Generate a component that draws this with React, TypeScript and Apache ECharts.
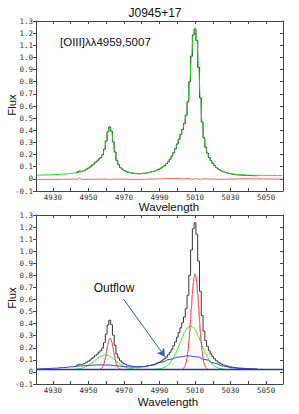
import React, { useEffect, useRef } from "react";
import * as echarts from "echarts";

// ---------- axes ----------
const X_MIN = 4920.5;
const X_MAX = 5059.5;
const Y_MIN = -0.1;
const Y_MAX = 1.3;
const Y_STEP = 0.1;
const X_TICKS = [4930, 4940, 4950, 4960, 4970, 4980, 4990, 5000, 5010, 5020, 5030, 5040, 5050];
const X_LABELS = [4930, 4950, 4970, 4990, 5010, 5030, 5050];

// ---------- texts ----------
const TITLE = "J0945+17";
const LINE_LABEL = "[OIII]λλ4959,5007";
const Y_NAME = "Flux";
const X_NAME = "Wavelength";
const OUTFLOW_LABEL = "Outflow";

// ---------- observed spectrum (histogram, bin centres) ----------
const SPECTRUM: [number, number][] = [
  [4943, 0.05], [4944, 0.058], [4945, 0.064], [4946, 0.062], [4947, 0.066], [4948, 0.071],
  [4949, 0.08], [4950, 0.088], [4951, 0.098], [4952, 0.112], [4953, 0.122], [4954, 0.137],
  [4955, 0.147], [4956, 0.163], [4957, 0.176], [4958, 0.199], [4959, 0.243], [4960, 0.312],
  [4961, 0.388], [4962, 0.428], [4963, 0.392], [4964, 0.305], [4965, 0.221], [4966, 0.15],
  [4967, 0.116], [4968, 0.093], [4969, 0.081], [4970, 0.069], [4971, 0.063], [4972, 0.056],
  [4973, 0.052], [4974, 0.048], [4975, 0.046], [4976, 0.044], [4977, 0.043], [4978, 0.043],
  [4979, 0.042], [4980, 0.044], [4981, 0.045], [4982, 0.047], [4983, 0.05], [4984, 0.053],
  [4985, 0.057], [4986, 0.06], [4987, 0.064], [4988, 0.069], [4989, 0.075], [4990, 0.081],
  [4991, 0.089], [4992, 0.099], [4993, 0.11], [4994, 0.125], [4995, 0.142], [4996, 0.163],
  [4997, 0.188], [4998, 0.217], [4999, 0.249], [5000, 0.287], [5001, 0.326], [5002, 0.366],
  [5003, 0.407], [5004, 0.455], [5005, 0.523], [5006, 0.635], [5007, 0.8], [5008, 1.01],
  [5009, 1.185], [5010, 1.235], [5011, 1.14], [5012, 0.918], [5013, 0.668], [5014, 0.468],
  [5015, 0.338], [5016, 0.26], [5017, 0.212], [5018, 0.176], [5019, 0.149], [5020, 0.127],
  [5021, 0.109], [5022, 0.094], [5023, 0.082], [5024, 0.073], [5025, 0.065], [5026, 0.058],
  [5027, 0.053], [5028, 0.049], [5029, 0.045], [5030, 0.042], [5031, 0.039], [5032, 0.037],
  [5033, 0.035], [5034, 0.033], [5035, 0.032], [5036, 0.031], [5037, 0.03], [5038, 0.029],
  [5039, 0.028], [5040, 0.028], [5041, 0.027], [5042, 0.027], [5043, 0.026], [5044, 0.026],
  [5045, 0.025],
];

// ---------- top panel: total model fit ----------
const TOTAL_FIT: [number, number][] = [
  [4921, 0.029], [4926, 0.032], [4931, 0.035], [4936, 0.039], [4940, 0.044], [4943, 0.049],
  [4945, 0.055], [4947, 0.064], [4949, 0.078], [4951, 0.098], [4953, 0.122], [4955, 0.148],
  [4956, 0.162], [4957, 0.176], [4958, 0.199], [4959, 0.241], [4960, 0.311], [4961, 0.387],
  [4962, 0.426], [4963, 0.393], [4964, 0.307], [4965, 0.219], [4966, 0.152], [4967, 0.115],
  [4968, 0.094], [4969, 0.08], [4970, 0.07], [4972, 0.057], [4974, 0.049], [4976, 0.045],
  [4978, 0.043], [4980, 0.044], [4982, 0.047], [4984, 0.053], [4986, 0.06], [4988, 0.069],
  [4990, 0.081], [4992, 0.099], [4994, 0.125], [4995, 0.142], [4996, 0.163], [4997, 0.188],
  [4998, 0.217], [4999, 0.249], [5000, 0.287], [5001, 0.326], [5002, 0.366], [5003, 0.407],
  [5004, 0.455], [5005, 0.523], [5006, 0.635], [5007, 0.8], [5008, 1.01], [5009, 1.188],
  [5010, 1.24], [5011, 1.142], [5012, 0.917], [5013, 0.667], [5014, 0.466], [5015, 0.336],
  [5016, 0.259], [5017, 0.211], [5018, 0.175], [5019, 0.148], [5020, 0.126], [5022, 0.094],
  [5024, 0.073], [5026, 0.058], [5028, 0.049], [5030, 0.042], [5033, 0.036], [5036, 0.032],
  [5040, 0.03], [5045, 0.029], [5050, 0.029], [5055, 0.028], [5059, 0.028],
];

// ---------- top panel: residuals ----------
const RESIDUAL: [number, number][] = [
  [4921, -0.004], [4930, -0.004], [4940, -0.003], [4944, -0.002], [4945, 0.008], [4946, -0.006],
  [4948, -0.004], [4955, -0.003], [4960, -0.002], [4962, -0.005], [4965, -0.002], [4970, -0.003],
  [4980, -0.004], [4985, -0.002], [4990, 0.0], [4995, 0.002], [5000, 0.003], [5003, 0.0],
  [5006, 0.002], [5009, -0.004], [5010, 0.001], [5012, -0.003], [5015, 0.0], [5020, -0.002],
  [5025, -0.004], [5030, -0.002], [5035, 0.0], [5040, 0.001], [5045, 0.0], [5050, -0.001],
  [5055, -0.002], [5059, -0.002],
];

// ---------- bottom panel: components ----------
const CONTINUUM: [number, number][] = [[4920.5, 0.02], [5059.5, 0.02]];

const BROAD_OUTFLOW: [number, number][] = [
  [4921, 0.024], [4926, 0.027], [4931, 0.031], [4936, 0.036], [4941, 0.043], [4946, 0.05],
  [4951, 0.055], [4956, 0.058], [4961, 0.057], [4966, 0.05], [4971, 0.043], [4976, 0.04],
  [4981, 0.043], [4986, 0.055], [4991, 0.08], [4996, 0.105], [5001, 0.124], [5006, 0.133],
  [5011, 0.125], [5016, 0.102], [5021, 0.072], [5026, 0.048], [5031, 0.034], [5036, 0.027],
  [5041, 0.023], [5046, 0.021], [5051, 0.02], [5056, 0.02], [5059, 0.02],
];

const INTERMEDIATE: [number, number][] = [
  [4943, 0.0227], [4945, 0.0265], [4947, 0.0337], [4949, 0.046], [4950, 0.0543], [4951, 0.064],
  [4952, 0.075], [4953, 0.0867], [4954, 0.0988], [4955, 0.1106], [4956, 0.1213], [4957, 0.13],
  [4958, 0.1363], [4959, 0.1396], [4960, 0.1396], [4961, 0.1363], [4962, 0.13], [4963, 0.1213],
  [4964, 0.1106], [4965, 0.0988], [4966, 0.0867], [4967, 0.075], [4968, 0.064], [4969, 0.0543],
  [4970, 0.046], [4971, 0.0391], [4972, 0.0337], [4973, 0.0296], [4974, 0.0265], [4976, 0.0227],
  [4980, 0.0205], [4985, 0.0203], [4989, 0.0231], [4991, 0.0282], [4993, 0.0394], [4994, 0.0487],
  [4995, 0.061], [4996, 0.0772], [4997, 0.0978], [4998, 0.123], [4999, 0.152], [5000, 0.185],
  [5001, 0.22], [5002, 0.2565], [5003, 0.292], [5004, 0.324], [5005, 0.35], [5006, 0.369],
  [5007, 0.379], [5008, 0.379], [5009, 0.369], [5010, 0.35], [5011, 0.324], [5012, 0.292],
  [5013, 0.2565], [5014, 0.22], [5015, 0.185], [5016, 0.152], [5017, 0.123], [5018, 0.0978],
  [5019, 0.0772], [5020, 0.061], [5021, 0.0487], [5022, 0.0394], [5023, 0.0328], [5024, 0.0282],
  [5026, 0.0231],
];

const NARROW_4959: [number, number][] = [
  [4956.2, 0.0218], [4956.7, 0.0239], [4957.2, 0.0282], [4957.7, 0.0357], [4958.2, 0.0484],
  [4958.7, 0.0677], [4959.2, 0.0947], [4959.7, 0.1294], [4960.2, 0.1695], [4960.7, 0.2104],
  [4961.2, 0.2465], [4961.7, 0.2712], [4962.2, 0.28], [4962.7, 0.2712], [4963.2, 0.2465],
  [4963.7, 0.2104], [4964.2, 0.1695], [4964.7, 0.1294], [4965.2, 0.0947], [4965.7, 0.0677],
  [4966.2, 0.0484], [4966.7, 0.0357], [4967.2, 0.0282], [4967.7, 0.0239], [4968.2, 0.0218],
];

const NARROW_5007: [number, number][] = [
  [5003, 0.025], [5003.5, 0.03], [5004, 0.0392], [5004.5, 0.0547], [5005, 0.0797], [5005.5, 0.1175],
  [5006, 0.1713], [5006.5, 0.2429], [5007, 0.3317], [5007.5, 0.4342], [5008, 0.5427], [5008.5, 0.6462],
  [5009, 0.7326], [5009.5, 0.7899], [5010, 0.81], [5010.5, 0.7899], [5011, 0.7326], [5011.5, 0.6462],
  [5012, 0.5427], [5012.5, 0.4342], [5013, 0.3317], [5013.5, 0.2429], [5014, 0.1713], [5014.5, 0.1175],
  [5015, 0.0797], [5015.5, 0.0547], [5016, 0.0392], [5016.5, 0.03], [5017, 0.025],
];

// annotation arrow (data coordinates of bottom panel)
const ARROW_FROM: [number, number] = [4969.7, 0.604];
const ARROW_TO: [number, number] = [4993.1, 0.126];

const MONO = "DejaVu Sans Mono";
const SANS = "Liberation Sans";
const AXIS_COLOR = "#444";

function xAxes(gridIndex: number) {
  const base = {
    type: "value" as const,
    gridIndex,
    min: X_MIN,
    max: X_MAX,
    splitLine: { show: false },
    axisLine: { show: true, onZero: false, lineStyle: { color: AXIS_COLOR, width: 1 } },
  };
  return [
    {
      ...base,
      position: "bottom",
      axisTick: { show: true, inside: true, length: 3, customValues: X_TICKS, lineStyle: { color: AXIS_COLOR } },
      axisLabel: {
        show: true,
        customValues: X_LABELS,
        fontFamily: MONO,
        fontSize: 7.5,
        color: "#333",
        margin: 2,
        formatter: (v: number) => String(Math.round(v)),
      },
    },
    {
      ...base,
      position: "top",
      axisTick: { show: true, inside: true, length: 3, customValues: X_TICKS, lineStyle: { color: AXIS_COLOR } },
      axisLabel: { show: false },
    },
  ];
}

function yAxes(gridIndex: number) {
  const base = {
    type: "value" as const,
    gridIndex,
    min: Y_MIN,
    max: Y_MAX,
    interval: Y_STEP,
    splitLine: { show: false },
    axisLine: { show: true, onZero: false, lineStyle: { color: AXIS_COLOR, width: 1 } },
  };
  return [
    {
      ...base,
      position: "left",
      axisTick: { show: true, inside: false, length: 3, lineStyle: { color: AXIS_COLOR } },
      axisLabel: {
        show: true,
        fontFamily: MONO,
        fontSize: 7.5,
        color: "#333",
        margin: 3,
        formatter: (v: number) => {
          const r = Math.round(v * 10) / 10;
          return r === 0 ? "0" : r.toFixed(1);
        },
      },
    },
    {
      ...base,
      position: "right",
      axisTick: { show: true, inside: true, length: 3, lineStyle: { color: AXIS_COLOR } },
      axisLabel: { show: false },
    },
  ];
}

function line(name: string, data: [number, number][], axis: number, color: string, width: number, extra: any = {}) {
  return {
    name,
    type: "line",
    xAxisIndex: axis,
    yAxisIndex: axis,
    data,
    symbol: "none",
    silent: true,
    lineStyle: { color, width },
    ...extra,
  };
}

export default function App() {
  const ref = useRef<HTMLDivElement>(null);

  useEffect(() => {
    document.body.style.margin = "0";
    if (!ref.current) return;
    const chart = echarts.init(ref.current, undefined, { renderer: "svg" });

    const textStyle = (size: number) => ({ fontFamily: SANS, fontSize: size, fill: "#111" });

    chart.setOption({
      animation: false,
      backgroundColor: "#ffffff",
      grid: [
        { left: 36, top: 21, width: 247, height: 170 },
        { left: 36, top: 215, width: 247, height: 169 },
      ],
      xAxis: [...xAxes(0), ...xAxes(1)],
      yAxis: [...yAxes(0), ...yAxes(1)],
      series: [
        // top panel (axes 0)
        line("spectrum", SPECTRUM, 0, "#222", 1, { step: "middle" }),
        line("fit", TOTAL_FIT, 0, "#22dd22", 1, { smooth: true, smoothMonotone: "x" }),
        line("residual", RESIDUAL, 0, "#ff5a5a", 1, { smooth: true, smoothMonotone: "x" }),
        // bottom panel (axes 2)
        line("spectrum2", SPECTRUM, 2, "#333", 1, { step: "middle" }),
        line("intermediate", INTERMEDIATE, 2, "#22ee22", 1, { smooth: true, smoothMonotone: "x" }),
        line("broad", BROAD_OUTFLOW, 2, "#3838e6", 1, { smooth: true, smoothMonotone: "x" }),
        line("continuum", CONTINUUM, 2, "#1c3c96", 1.3, {
          markLine: {
            silent: true,
            symbol: ["none", "arrow"],
            symbolSize: [7, 8],
            label: { show: false },
            lineStyle: { color: "#3563a8", width: 1, type: "solid" },
            data: [[{ coord: ARROW_FROM }, { coord: ARROW_TO }]],
          },
        }),
        line("narrow4959", NARROW_4959, 2, "#ff2a2a", 1, { smooth: true, smoothMonotone: "x" }),
        line("narrow5007", NARROW_5007, 2, "#ff2a2a", 1, { smooth: true, smoothMonotone: "x" }),
      ],
      graphic: [
        { type: "text", x: 155, y: 13, style: { ...textStyle(12), text: TITLE, align: "center", verticalAlign: "middle" } },
        { type: "text", x: 60, y: 42, style: { ...textStyle(11.5), text: LINE_LABEL, align: "left", verticalAlign: "middle" } },
        { type: "text", x: 12, y: 105, rotation: Math.PI / 2, style: { ...textStyle(11.5), text: Y_NAME, align: "center", verticalAlign: "middle" } },
        { type: "text", x: 12, y: 298, rotation: Math.PI / 2, style: { ...textStyle(11.5), text: Y_NAME, align: "center", verticalAlign: "middle" } },
        { type: "text", x: 169, y: 207, style: { ...textStyle(11.5), text: X_NAME, align: "center", verticalAlign: "middle" } },
        { type: "text", x: 168, y: 402, style: { ...textStyle(11.5), text: X_NAME, align: "center", verticalAlign: "middle" } },
        { type: "text", x: 114, y: 288, style: { ...textStyle(12), text: OUTFLOW_LABEL, align: "center", verticalAlign: "middle" } },
      ],
    });

    return () => chart.dispose();
  }, []);

  return <div ref={ref} style={{ width: 299, height: 414 }} />;
}
